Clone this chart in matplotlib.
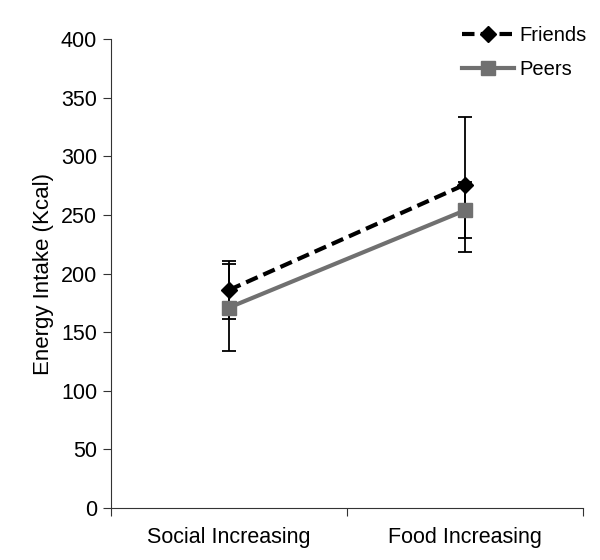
import matplotlib
matplotlib.use("Agg")
import matplotlib.pyplot as plt

plt.rcParams['font.family'] = ['Liberation Sans', 'DejaVu Sans']

categories = ["Social Increasing", "Food Increasing"]
friends = [186, 276]
friends_err = [25, 58]
peers = [171, 254]
peers_err = [37, 24]

fig = plt.figure(figsize=(6, 5.6), dpi=100)
ax = fig.add_axes([0.185, 0.093, 0.787, 0.837])

xs = [0.5, 1.5]
ax.errorbar(xs, peers, yerr=peers_err, fmt='none', ecolor='black', elinewidth=1.3,
            capsize=5, capthick=1.3, zorder=2)
ax.errorbar(xs, friends, yerr=friends_err, fmt='none', ecolor='black', elinewidth=1.3,
            capsize=5, capthick=1.3, zorder=2)
ax.plot(xs, peers, color='#707070', linewidth=3, marker='s', markersize=10,
        label='Peers', zorder=3)
ax.plot(xs, friends, color='black', linewidth=3, linestyle=(0, (3, 1.5)), marker='D',
        markersize=8, label='Friends', zorder=4)

ax.set_xlim(0, 2)
ax.set_ylim(0, 400)
ax.set_yticks(range(0, 401, 50))
ax.set_xticks([0, 1, 2])
ax.set_xticklabels([])
ax.set_xticks(xs, minor=True)
ax.set_xticklabels(categories, minor=True)
ax.tick_params(axis='x', which='minor', length=0, pad=14, labelsize=15.5)
ax.tick_params(axis='x', which='major', length=6, color='#333333')
ax.tick_params(axis='y', length=6, labelsize=15.5, color='#333333', pad=4)
for s in ['top', 'right']:
    ax.spines[s].set_visible(False)
ax.spines['left'].set_color('#333333')
ax.spines['bottom'].set_color('#333333')
ax.set_ylabel('Energy Intake (Kcal)', fontsize=16, labelpad=5)

handles, labels = ax.get_legend_handles_labels()
ax.legend(handles[::-1], labels[::-1], loc='upper right', bbox_to_anchor=(1.045, 1.066),
          frameon=False, fontsize=14.5, handlelength=2.6, handletextpad=0.25,
          labelspacing=0.75)

fig.savefig('out.png', dpi=100)
